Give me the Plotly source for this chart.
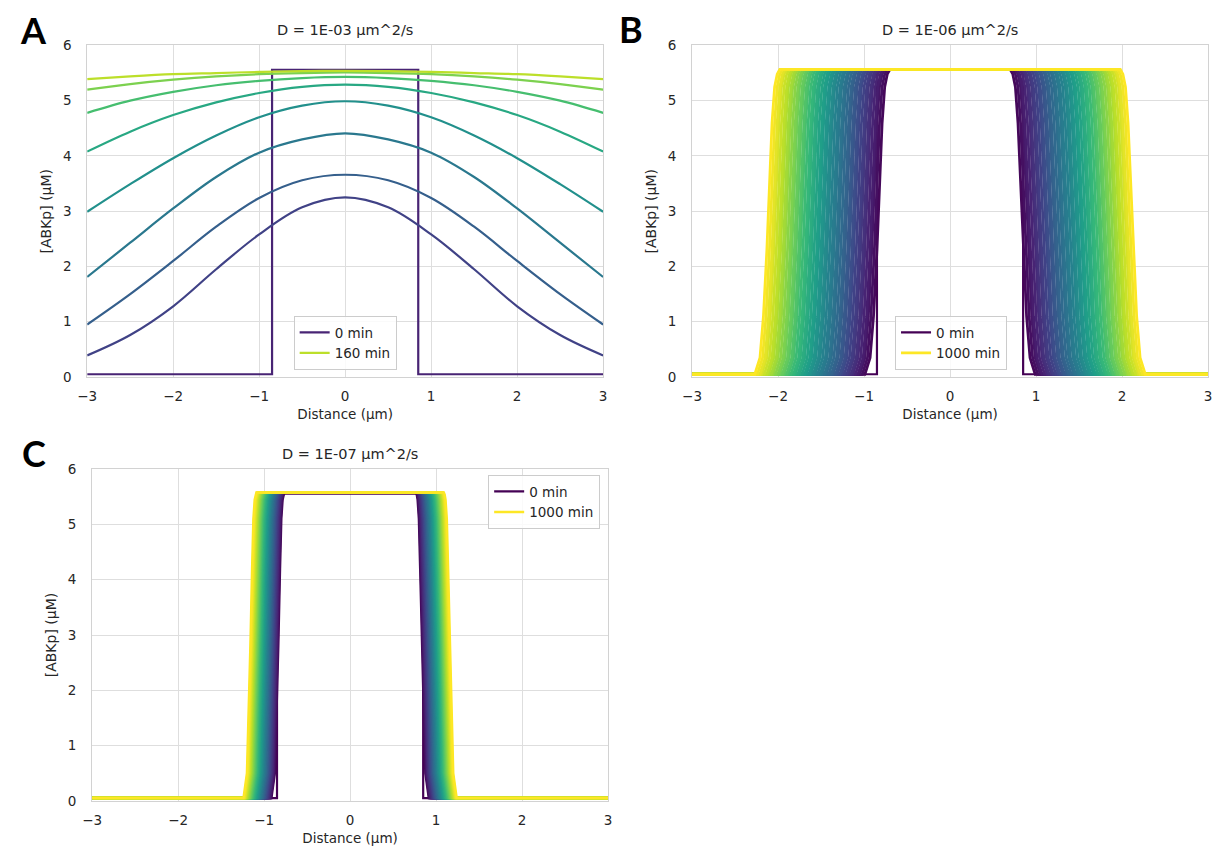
import plotly.graph_objects as go
from plotly.colors import sample_colorscale

# ------------------------------------------------------------------ data
# Panel A : D = 1E-03 um^2/s, snapshots every 20 min from 0 to 160 min
A_times = [0, 20, 40, 60, 80, 100, 120, 140, 160]
A_x = [-3.0, -2.5, -2.0, -1.5, -1.0, -0.5, 0.0, 0.5, 1.0, 1.5, 2.0, 2.5, 3.0]
A_20 = [0.39, 0.76, 1.28, 1.95, 2.58, 3.07, 3.25, 3.07, 2.58, 1.95, 1.28, 0.76, 0.39]
A_40 = [0.95, 1.50, 2.10, 2.72, 3.24, 3.56, 3.66, 3.56, 3.24, 2.72, 2.10, 1.50, 0.95]
A_60 = [1.81, 2.43, 3.05, 3.62, 4.06, 4.30, 4.41, 4.30, 4.06, 3.62, 3.05, 2.43, 1.81]
A_80 = [2.99, 3.49, 3.96, 4.37, 4.70, 4.91, 4.99, 4.91, 4.70, 4.37, 3.96, 3.49, 2.99]
A_100 = [4.08, 4.44, 4.74, 4.97, 5.14, 5.25, 5.29, 5.25, 5.14, 4.97, 4.74, 4.44, 4.08]
A_120 = [4.78, 5.00, 5.16, 5.28, 5.36, 5.41, 5.43, 5.41, 5.36, 5.28, 5.16, 5.00, 4.78]
A_140 = [5.20, 5.30, 5.38, 5.44, 5.48, 5.50, 5.51, 5.50, 5.48, 5.44, 5.38, 5.30, 5.20]
A_160 = [5.39, 5.44, 5.48, 5.50, 5.52, 5.535, 5.54, 5.535, 5.52, 5.50, 5.48, 5.44, 5.39]

# initial condition (0 min), shared by all panels
step_x = [-3.0, -0.85, -0.85, 0.85, 0.85, 3.0]
step_y = [0.05, 0.05, 5.56, 5.56, 0.05, 0.05]

# Panel B : D = 1E-06 um^2/s, snapshots every 20 min from 0 to 1000 min
B_times = list(range(0, 1001, 20))
# position of the upper shoulder of the right-hand front for 20 ... 1000 min
B_front = [0.70, 0.73, 0.76, 0.78, 0.81, 0.84, 0.86, 0.89, 0.91, 0.94,
           0.97, 0.99, 1.02, 1.04, 1.07, 1.09, 1.12, 1.15, 1.17, 1.20,
           1.22, 1.25, 1.28, 1.30, 1.33, 1.35, 1.38, 1.40, 1.43, 1.46,
           1.48, 1.51, 1.53, 1.56, 1.59, 1.61, 1.64, 1.66, 1.69, 1.71,
           1.74, 1.77, 1.79, 1.82, 1.84, 1.87, 1.90, 1.92, 1.95, 1.98]
# front profile: distance outward from the shoulder and concentration
B_prof_dx = [0.00, 0.03, 0.06, 0.09, 0.12, 0.15, 0.19, 0.23, 0.29]
B_prof_y = [5.565, 5.48, 5.25, 4.60, 3.50, 2.30, 1.10, 0.35, 0.05]
B_base = 0.05

# Panel C : D = 1E-07 um^2/s, snapshots every 20 min from 0 to 1000 min
C_times = list(range(0, 1001, 20))
C_front = [0.765, 0.772, 0.778, 0.785, 0.791, 0.798, 0.805, 0.811, 0.818, 0.824,
           0.831, 0.838, 0.844, 0.851, 0.857, 0.864, 0.871, 0.877, 0.884, 0.890,
           0.897, 0.904, 0.910, 0.917, 0.923, 0.930, 0.937, 0.943, 0.950, 0.956,
           0.963, 0.970, 0.976, 0.983, 0.989, 0.996, 1.003, 1.009, 1.016, 1.022,
           1.029, 1.036, 1.042, 1.049, 1.055, 1.062, 1.069, 1.075, 1.082, 1.090]
C_prof_dx = [0.00, 0.01, 0.02, 0.035, 0.05, 0.07, 0.09, 0.11, 0.15]
C_prof_y = [5.58, 5.54, 5.45, 5.10, 4.20, 2.80, 1.50, 0.50, 0.05]
C_base = 0.05

titles = ["D = 1E-03 µm^2/s", "D = 1E-06 µm^2/s", "D = 1E-07 µm^2/s"]
panel_letters = ["A", "B", "C"]

# ------------------------------------------------------------------ style
# the page keeps the browser's 8 px body margin, so the figure is 16 px smaller
OFF = 8
W, H = 1221 - 2 * OFF, 859 - 2 * OFF
FONT = "DejaVu Sans, Liberation Sans, sans-serif"
TXT = "#262626"
GRID = "#dedede"
FRAME = "#d2d2d2"


def px_x(p):
    return (p - OFF) / W


def px_y(p):
    return 1 - (p - OFF) / H


# plot boxes in page pixels: (left, right, top, bottom)
boxes = {
    "A": (78, 600, 38, 376),
    "B": (690, 1212, 38, 376),
    "C": (83, 605, 470, 808),
}

fig = go.Figure()


def profile_curve(s, dx, py, base):
    xs = [-3.0] + [-(s + d) for d in reversed(dx)] + [s + d for d in dx] + [3.0]
    ys = [base] + list(reversed(py)) + list(py) + [base]
    return xs, ys


# ---- panel A
A_curves = [A_20, A_40, A_60, A_80, A_100, A_120, A_140, A_160]
A_cols = sample_colorscale("Viridis", [0.1 + 0.1 * i for i in range(len(A_times))])
fig.add_trace(go.Scatter(x=step_x, y=step_y, mode="lines", name=f"{A_times[0]} min",
                         line=dict(color=A_cols[0], width=2.2), xaxis="x", yaxis="y",
                         legend="legend", showlegend=True, hoverinfo="skip"))
for i, yv in enumerate(A_curves, start=1):
    fig.add_trace(go.Scatter(x=A_x, y=yv, mode="lines", name=f"{A_times[i]} min",
                             line=dict(color=A_cols[i], width=2.2, shape="spline", smoothing=1.0),
                             xaxis="x", yaxis="y", legend="legend",
                             showlegend=(i == len(A_curves)), hoverinfo="skip"))

# ---- panels B and C
for key, times, fronts, dx, py, base, xa, ya, lg, lw in [
    ("B", B_times, B_front, B_prof_dx, B_prof_y, B_base, "x2", "y2", "legend2", 2.8),
    ("C", C_times, C_front, C_prof_dx, C_prof_y, C_base, "x3", "y3", "legend3", 2.4),
]:
    cols = sample_colorscale("Viridis", [i / (len(times) - 1) for i in range(len(times))])
    fig.add_trace(go.Scatter(x=step_x, y=step_y, mode="lines", name=f"{times[0]} min",
                             line=dict(color=cols[0], width=2.2), xaxis=xa, yaxis=ya,
                             legend=lg, showlegend=True, hoverinfo="skip"))
    for i, s in enumerate(fronts, start=1):
        xs, ys = profile_curve(s, dx, py, base)
        fig.add_trace(go.Scatter(x=xs, y=ys, mode="lines", name=f"{times[i]} min",
                                 line=dict(color=cols[i], width=lw),
                                 xaxis=xa, yaxis=ya, legend=lg,
                                 showlegend=(i == len(fronts)), hoverinfo="skip"))

# ---- axes
axis_common = dict(showgrid=True, gridcolor=GRID, gridwidth=1, zeroline=False,
                   showline=True, linecolor=FRAME, linewidth=1, mirror=True,
                   ticks="", tickfont=dict(family=FONT, size=13.5, color=TXT))
layout_axes = {}
for n, key in enumerate(["A", "B", "C"], start=1):
    l, r, t, b = boxes[key]
    sfx = "" if n == 1 else str(n)
    layout_axes[f"xaxis{sfx}"] = dict(axis_common, domain=[px_x(l), px_x(r)], range=[-3, 3],
                                      dtick=1, anchor=f"y{sfx}",
                                      title=dict(text="Distance (µm)", standoff=6,
                                                 font=dict(family=FONT, size=13.5, color=TXT)),
                                      ticklabelstandoff=7)
    layout_axes[f"yaxis{sfx}"] = dict(axis_common, domain=[px_y(b), px_y(t)], range=[0, 6],
                                      dtick=1, anchor=f"x{sfx}",
                                      title=dict(text="[ABKp] (µM)", standoff=7,
                                                 font=dict(family=FONT, size=14, color=TXT)),
                                      ticklabelstandoff=12)

legend_common = dict(bgcolor="rgba(255,255,255,0.85)", bordercolor="#cccccc", borderwidth=1,
                     font=dict(family=FONT, size=13.5, color=TXT), tracegroupgap=0,
                     itemwidth=30)

annotations = []
for key, title in zip(["A", "B", "C"], titles):
    l, r, t, b = boxes[key]
    annotations.append(dict(text=title, xref="paper", yref="paper",
                            x=px_x((l + r) / 2), y=px_y(t - 16), xanchor="center",
                            yanchor="middle", showarrow=False,
                            font=dict(family=FONT, size=14.5, color=TXT)))
letter_pos = {"A": (24, 22), "B": (628, 21), "C": (24, 453)}
for key in panel_letters:
    lx, ly = letter_pos[key]
    annotations.append(dict(text=f"<b>{key}</b>", xref="paper", yref="paper",
                            x=px_x(lx), y=px_y(ly), xanchor="center", yanchor="middle",
                            showarrow=False,
                            font=dict(family="Lato, Open Sans, sans-serif", size=36,
                                      color="#000000")))

fig.update_layout(
    width=W, height=H,
    margin=dict(l=0, r=0, t=0, b=0),
    paper_bgcolor="white", plot_bgcolor="white",
    font=dict(family=FONT, color=TXT),
    annotations=annotations,
    legend=dict(legend_common, x=px_x(339), y=px_y(369), xanchor="center", yanchor="bottom"),
    legend2=dict(legend_common, x=px_x(952), y=px_y(369), xanchor="center", yanchor="bottom"),
    legend3=dict(legend_common, x=px_x(597), y=px_y(476), xanchor="right", yanchor="top"),
    **layout_axes,
)

fig.write_html("out.html", config={"displayModeBar": False})
